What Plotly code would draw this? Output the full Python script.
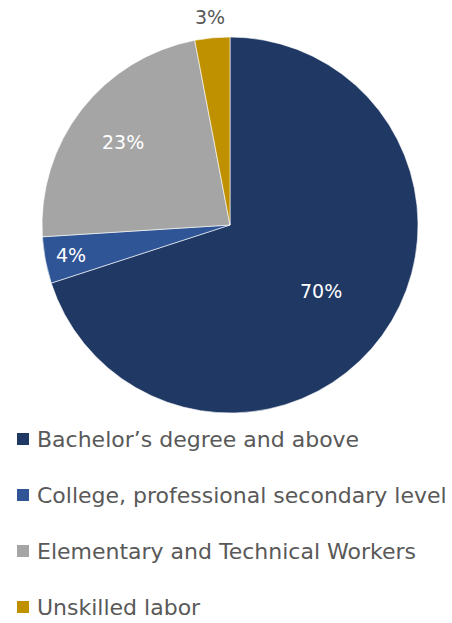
import math
import plotly.graph_objects as go

# Education level of the workforce
categories = [
    "Bachelor\u2019s degree and above",
    "College, professional secondary level",
    "Elementary and Technical Workers",
    "Unskilled labor",
]
shares = [70, 4, 23, 3]
colors = ["#1F3864", "#2F5597", "#A5A5A5", "#BF9000"]

W, H = 452, 623
cx_px, cy_px, r_px = 230, 225, 188
FONT = "DejaVu Sans"

fig = go.Figure(
    go.Pie(
        labels=categories,
        values=shares,
        sort=False,
        direction="clockwise",
        rotation=0,
        marker=dict(colors=colors, line=dict(color="white", width=0.6)),
        textinfo="none",
        hoverinfo="label+percent",
        showlegend=False,
        domain=dict(
            x=[(cx_px - r_px) / W, (cx_px + r_px) / W],
            y=[1 - (cy_px + r_px) / H, 1 - (cy_px - r_px) / H],
        ),
    )
)

# Percentage labels placed along each slice's bisector
label_radius = [0.60, 0.86, 0.72, 1.11]
label_color = ["white", "white", "white", "#595959"]
total = sum(shares)
cum = 0
for v, rf, col in zip(shares, label_radius, label_color):
    mid = (cum + v / 2) / total * 2 * math.pi
    cum += v
    x = cx_px + rf * r_px * math.sin(mid)
    y = cy_px - rf * r_px * math.cos(mid)
    fig.add_annotation(
        x=x / W, y=1 - y / H, xref="paper", yref="paper",
        text=f"{round(v / total * 100)}%", showarrow=False,
        font=dict(family=FONT, size=19, color=col),
        xanchor="center", yanchor="middle",
    )

# Legend drawn below the pie
leg_y0, leg_dy = 439, 56
for i, (name, col) in enumerate(zip(categories, colors)):
    yc = leg_y0 + i * leg_dy
    fig.add_shape(
        type="rect", xref="paper", yref="paper",
        x0=17 / W, x1=29 / W, y0=1 - (yc + 6) / H, y1=1 - (yc - 6) / H,
        fillcolor=col, line=dict(width=0),
    )
    fig.add_annotation(
        x=35 / W, y=1 - yc / H, xref="paper", yref="paper",
        text=name, showarrow=False, xanchor="left", yanchor="middle",
        font=dict(family=FONT, size=22, color="#595959"),
    )

fig.update_layout(
    width=W, height=H,
    margin=dict(l=0, r=0, t=0, b=0),
    paper_bgcolor="white", plot_bgcolor="white",
)

fig.write_html("out.html")
